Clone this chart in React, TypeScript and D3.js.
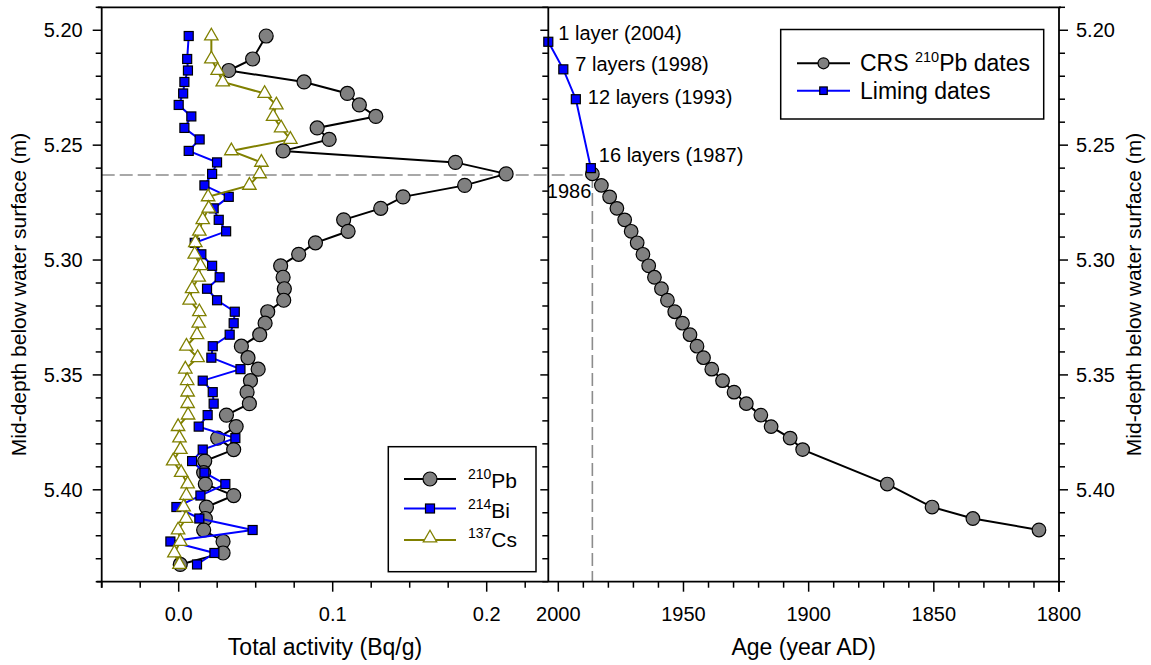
import React from "react";
import * as d3 from "d3";

// ---------- data ----------
const depth = [5.2025, 5.2125, 5.2175, 5.2225, 5.2275, 5.2325, 5.2375, 5.2425, 5.2475, 5.2525, 5.2575, 5.2625, 5.2675, 5.2725, 5.2775, 5.2825, 5.2875, 5.2925, 5.2975, 5.3025, 5.3075, 5.3125, 5.3175, 5.3225, 5.3275, 5.3325, 5.3375, 5.3425, 5.3475, 5.3525, 5.3575, 5.3625, 5.3675, 5.3725, 5.3775, 5.3825, 5.3875, 5.3925, 5.3975, 5.4025, 5.4075, 5.4125, 5.4175, 5.4225, 5.4275, 5.4325];
const pb210 = [0.0568, 0.048, 0.0325, 0.0814, 0.1095, 0.1173, 0.128, 0.0899, 0.0977, 0.0678, 0.1797, 0.2126, 0.1857, 0.1457, 0.1312, 0.1071, 0.11, 0.0888, 0.0779, 0.0662, 0.0678, 0.0686, 0.0682, 0.0578, 0.0561, 0.0526, 0.0407, 0.045, 0.0516, 0.0466, 0.0444, 0.0459, 0.031, 0.0373, 0.0253, 0.0357, 0.0169, 0.0162, 0.0173, 0.0357, 0.018, 0.0173, 0.0162, 0.0288, 0.0288, 0.001];
const bi214 = [0.0065, 0.0055, 0.006, 0.0037, 0.0029, 0.0, 0.0082, 0.0037, 0.0136, 0.0065, 0.0249, 0.0217, 0.0167, 0.0325, 0.0227, 0.026, 0.0308, 0.0104, 0.0147, 0.0217, 0.0266, 0.0184, 0.0249, 0.0364, 0.0357, 0.0331, 0.0221, 0.0212, 0.0401, 0.0156, 0.0221, 0.0227, 0.0188, 0.013, 0.0368, 0.0156, 0.0087, 0.0167, 0.0303, 0.0141, -0.0015, 0.0134, 0.048, -0.0054, 0.0232, 0.0119];
const cs137 = [0.0212, 0.0212, 0.0253, 0.0286, 0.0558, 0.0634, 0.0613, 0.0665, 0.0725, 0.0342, 0.0537, 0.0526, 0.0459, 0.0191, 0.0195, 0.0156, 0.0134, 0.0108, 0.0104, 0.0141, 0.013, 0.0087, 0.0071, 0.0134, 0.013, 0.0119, 0.005, 0.0123, 0.0043, 0.0055, 0.0058, 0.0058, 0.0061, -0.0004, 0.0005, 0.0011, -0.0036, 0.0016, 0.0058, 0.005, 0.0032, 0.0048, -0.0004, 0.0011, -0.0028, 0.0005];

const crsDepth = [5.2625, 5.2675, 5.2725, 5.2775, 5.2825, 5.2875, 5.2925, 5.2975, 5.3025, 5.3075, 5.3125, 5.3175, 5.3225, 5.3275, 5.3325, 5.3375, 5.3425, 5.3475, 5.3525, 5.3575, 5.3625, 5.3675, 5.3725, 5.3775, 5.3825, 5.3975, 5.4075, 5.4125, 5.4175];
const crsAge = [1986.4, 1982.8, 1979.5, 1976.6, 1973.5, 1970.9, 1968.5, 1966.2, 1963.9, 1961.6, 1958.8, 1956.4, 1953.5, 1950.4, 1947.4, 1944.6, 1942, 1938.7, 1934.4, 1929.8, 1924.9, 1919.1, 1915, 1907.4, 1902.4, 1868.6, 1850.7, 1834.4, 1808];

const limingDepth = [5.205, 5.217, 5.23, 5.26];
const limingAge = [2004, 1998, 1993, 1987];
const limingLabels = ["1 layer (2004)", "7 layers (1998)", "12 layers (1993)", "16 layers (1987)"];

const markerDepth = 5.263;
const markerAge = 1986.4;
const markerLabel = "1986";

const depthTicksMajor = [5.2, 5.25, 5.3, 5.35, 5.4];
const depthTicksMinor = [5.19, 5.2, 5.21, 5.22, 5.23, 5.24, 5.25, 5.26, 5.27, 5.28, 5.29, 5.3, 5.31, 5.32, 5.33, 5.34, 5.35, 5.36, 5.37, 5.38, 5.39, 5.4, 5.41, 5.42, 5.43, 5.44];
const actTicksMajor = [0, 0.1, 0.2];
const actTicksMinor = [-0.05, -0.025, 0, 0.025, 0.05, 0.075, 0.1, 0.125, 0.15, 0.175, 0.2, 0.225];
const ageTicksMajor = [2000, 1950, 1900, 1850, 1800];
const ageTicksMinor = [2000, 1990, 1980, 1970, 1960, 1950, 1940, 1930, 1920, 1910, 1900, 1890, 1880, 1870, 1860, 1850, 1840, 1830, 1820, 1810, 1800];

// ---------- layout ----------
const W = 1151, H = 665;
const TOP = 7.3, BOT = 581.7;
const LX0 = 101.7, MID = 548.3, RX1 = 1059;
const FONT = "'Liberation Sans', Arial, Helvetica, sans-serif";

const y = d3.scaleLinear().domain([5.19, 5.44]).range([TOP, BOT]);
const xL = d3.scaleLinear().domain([-0.05, 0.24]).range([LX0, MID]);
const xR = d3.scaleLinear().domain([2004, 1800]).range([MID, RX1]);

const OLIVE = "#808000";
const BLUE = "#0000ff";
const GRAY = "#808080";

const tri = d3.symbol().type(d3.symbolTriangle).size(78)() as string;

function Circle({ cx, cy, r = 7 }: { cx: number; cy: number; r?: number }) {
  return <circle cx={cx} cy={cy} r={r} fill={GRAY} stroke="#000" strokeWidth={1.2} />;
}
function Square({ cx, cy, s = 9 }: { cx: number; cy: number; s?: number }) {
  return <rect x={cx - s / 2} y={cy - s / 2} width={s} height={s} fill={BLUE} stroke="#000" strokeWidth={1.2} />;
}
function Tri({ cx, cy, scale = 1 }: { cx: number; cy: number; scale?: number }) {
  return <path d={tri} transform={`translate(${cx},${cy}) scale(${scale})`} fill="#fff" stroke={OLIVE} strokeWidth={1.3} />;
}

export default function App() {
  const lineL = (vals: number[]) =>
    d3.line<number>().x((v) => xL(v)).y((_, i) => y(depth[i]))(vals) as string;
  const crsLine = d3.line<number>().x((v) => xR(v)).y((_, i) => y(crsDepth[i]))(crsAge) as string;
  const limLine = d3.line<number>().x((v) => xR(v)).y((_, i) => y(limingDepth[i]))(limingAge) as string;

  const labelOffsets = [
    { dx: 10, dy: -1.5 },
    { dx: 12, dy: 1.5 },
    { dx: 12, dy: 4.5 },
    { dx: 8, dy: -6 },
  ];

  return (
    <svg width={W} height={H} style={{ position: "absolute", left: 0, top: 0, background: "#fff" }} fontFamily={FONT}>
      <rect x={0} y={0} width={W} height={H} fill="#fff" />

      {/* dashed reference lines */}
      <line x1={LX0} x2={xR(markerAge)} y1={y(markerDepth)} y2={y(markerDepth)} stroke="#8c8c8c" strokeWidth={1.6} strokeDasharray="13 5" />
      <line x1={xR(markerAge)} x2={xR(markerAge)} y1={y(markerDepth)} y2={BOT} stroke="#8c8c8c" strokeWidth={1.6} strokeDasharray="13 5" />

      {/* left panel series */}
      <path d={lineL(pb210)} fill="none" stroke="#000" strokeWidth={2} />
      {pb210.map((v, i) => <Circle key={"pb" + i} cx={xL(v)} cy={y(depth[i])} />)}
      <path d={lineL(bi214)} fill="none" stroke={BLUE} strokeWidth={2} />
      {bi214.map((v, i) => <Square key={"bi" + i} cx={xL(v)} cy={y(depth[i])} />)}
      <path d={lineL(cs137)} fill="none" stroke={OLIVE} strokeWidth={2} />
      {cs137.map((v, i) => <Tri key={"cs" + i} cx={xL(v)} cy={y(depth[i])} />)}

      {/* right panel series */}
      <path d={crsLine} fill="none" stroke="#000" strokeWidth={2} />
      {crsAge.map((v, i) => <Circle key={"crs" + i} cx={xR(v)} cy={y(crsDepth[i])} r={6.8} />)}
      <path d={limLine} fill="none" stroke={BLUE} strokeWidth={2} />
      {limingAge.map((v, i) => <Square key={"lim" + i} cx={xR(v)} cy={y(limingDepth[i])} s={9} />)}

      {limingAge.map((v, i) => (
        <text key={"ll" + i} x={xR(v) + labelOffsets[i].dx} y={y(limingDepth[i]) + labelOffsets[i].dy} fontSize={20}>
          {limingLabels[i]}
        </text>
      ))}
      <text x={xR(markerAge) - 1} y={y(markerDepth) + 23} fontSize={20} textAnchor="end">{markerLabel}</text>

      {/* frame */}
      <line x1={LX0 - 4} x2={RX1 + 2} y1={TOP} y2={TOP} stroke="#000" strokeWidth={1.8} />
      <line x1={LX0 - 5} x2={RX1 + 1} y1={BOT} y2={BOT} stroke="#000" strokeWidth={1.8} />
      <line x1={LX0} x2={LX0} y1={TOP} y2={BOT + 6} stroke="#000" strokeWidth={1.8} />
      <line x1={MID} x2={MID} y1={TOP} y2={BOT} stroke="#000" strokeWidth={1.8} />
      <line x1={RX1} x2={RX1} y1={TOP} y2={BOT + 10} stroke="#000" strokeWidth={1.8} />

      {/* y ticks */}
      {depthTicksMinor.map((t) => {
        const major = depthTicksMajor.some((m) => Math.abs(m - t) < 1e-6);
        const len = major ? 9 : 6;
        return (
          <g key={"yt" + t}>
            <line x1={LX0 - len} x2={LX0} y1={y(t)} y2={y(t)} stroke="#000" strokeWidth={1.5} />
            <line x1={MID - (major ? 8 : 6)} x2={MID} y1={y(t)} y2={y(t)} stroke="#000" strokeWidth={1.5} />
            <line x1={RX1} x2={RX1 + len} y1={y(t)} y2={y(t)} stroke="#000" strokeWidth={1.5} />
          </g>
        );
      })}
      {depthTicksMajor.map((t) => (
        <g key={"yl" + t} fontSize={20}>
          <text x={LX0 - 19} y={y(t)} dy="0.36em" textAnchor="end">{t.toFixed(2)}</text>
          <text x={RX1 + 17} y={y(t)} dy="0.36em" textAnchor="start">{t.toFixed(2)}</text>
        </g>
      ))}

      {/* x ticks: left panel */}
      {actTicksMinor.map((t) => {
        const major = actTicksMajor.some((m) => Math.abs(m - t) < 1e-9);
        return <line key={"xa" + t} x1={xL(t)} x2={xL(t)} y1={BOT} y2={BOT + (major ? 10 : 6)} stroke="#000" strokeWidth={1.5} />;
      })}
      {actTicksMajor.map((t) => (
        <text key={"xal" + t} x={xL(t)} y={621} fontSize={20} textAnchor="middle">{t.toFixed(1)}</text>
      ))}
      {/* x ticks: right panel */}
      {ageTicksMinor.map((t) => {
        const major = ageTicksMajor.includes(t);
        return <line key={"xr" + t} x1={xR(t)} x2={xR(t)} y1={BOT} y2={BOT + (major ? 10 : 6)} stroke="#000" strokeWidth={1.5} />;
      })}
      {ageTicksMajor.map((t) => (
        <text key={"xrl" + t} x={xR(t)} y={621} fontSize={20} textAnchor="middle">{t}</text>
      ))}

      {/* axis titles */}
      <text x={(LX0 + MID) / 2} y={655} fontSize={23} textAnchor="middle">Total activity (Bq/g)</text>
      <text x={(MID + RX1) / 2} y={655} fontSize={23} textAnchor="middle">Age (year AD)</text>
      <text transform={`translate(26,${(TOP + BOT) / 2}) rotate(-90)`} fontSize={21} textAnchor="middle">Mid-depth below water surface (m)</text>
      <text transform={`translate(1141,${(TOP + BOT) / 2}) rotate(-90)`} fontSize={21} textAnchor="middle">Mid-depth below water surface (m)</text>

      {/* left legend */}
      <rect x={388.3} y={446.7} width={147.7} height={125} fill="#fff" stroke="#000" strokeWidth={1.5} />
      <line x1={404} x2={456} y1={479} y2={479} stroke="#000" strokeWidth={2} />
      <Circle cx={430} cy={479} />
      <line x1={404} x2={456} y1={508.5} y2={508.5} stroke={BLUE} strokeWidth={2} />
      <Square cx={430} cy={508.5} />
      <line x1={404} x2={456} y1={540} y2={540} stroke={OLIVE} strokeWidth={2} />
      <Tri cx={430} cy={538} />
      <text x={468} y={488} fontSize={21}><tspan fontSize={14} dy={-9}>210</tspan><tspan dy={9}>Pb</tspan></text>
      <text x={468} y={517.5} fontSize={21}><tspan fontSize={14} dy={-9}>214</tspan><tspan dy={9}>Bi</tspan></text>
      <text x={468} y={547} fontSize={21}><tspan fontSize={14} dy={-9}>137</tspan><tspan dy={9}>Cs</tspan></text>

      {/* right legend */}
      <rect x={780.7} y={29.5} width={263} height={89.5} fill="#fff" stroke="#000" strokeWidth={1.5} />
      <line x1={797} x2={850} y1={63.3} y2={63.3} stroke="#000" strokeWidth={2} />
      <Circle cx={823.5} cy={63.3} r={5.5} />
      <line x1={797} x2={850} y1={90.7} y2={90.7} stroke={BLUE} strokeWidth={2} />
      <Square cx={823.5} cy={90.7} s={7.5} />
      <text x={860} y={71} fontSize={23}>CRS <tspan fontSize={14.5} dy={-9.5}>210</tspan><tspan dy={9.5}>Pb dates</tspan></text>
      <text x={860} y={98.5} fontSize={23}>Liming dates</text>
    </svg>
  );
}
